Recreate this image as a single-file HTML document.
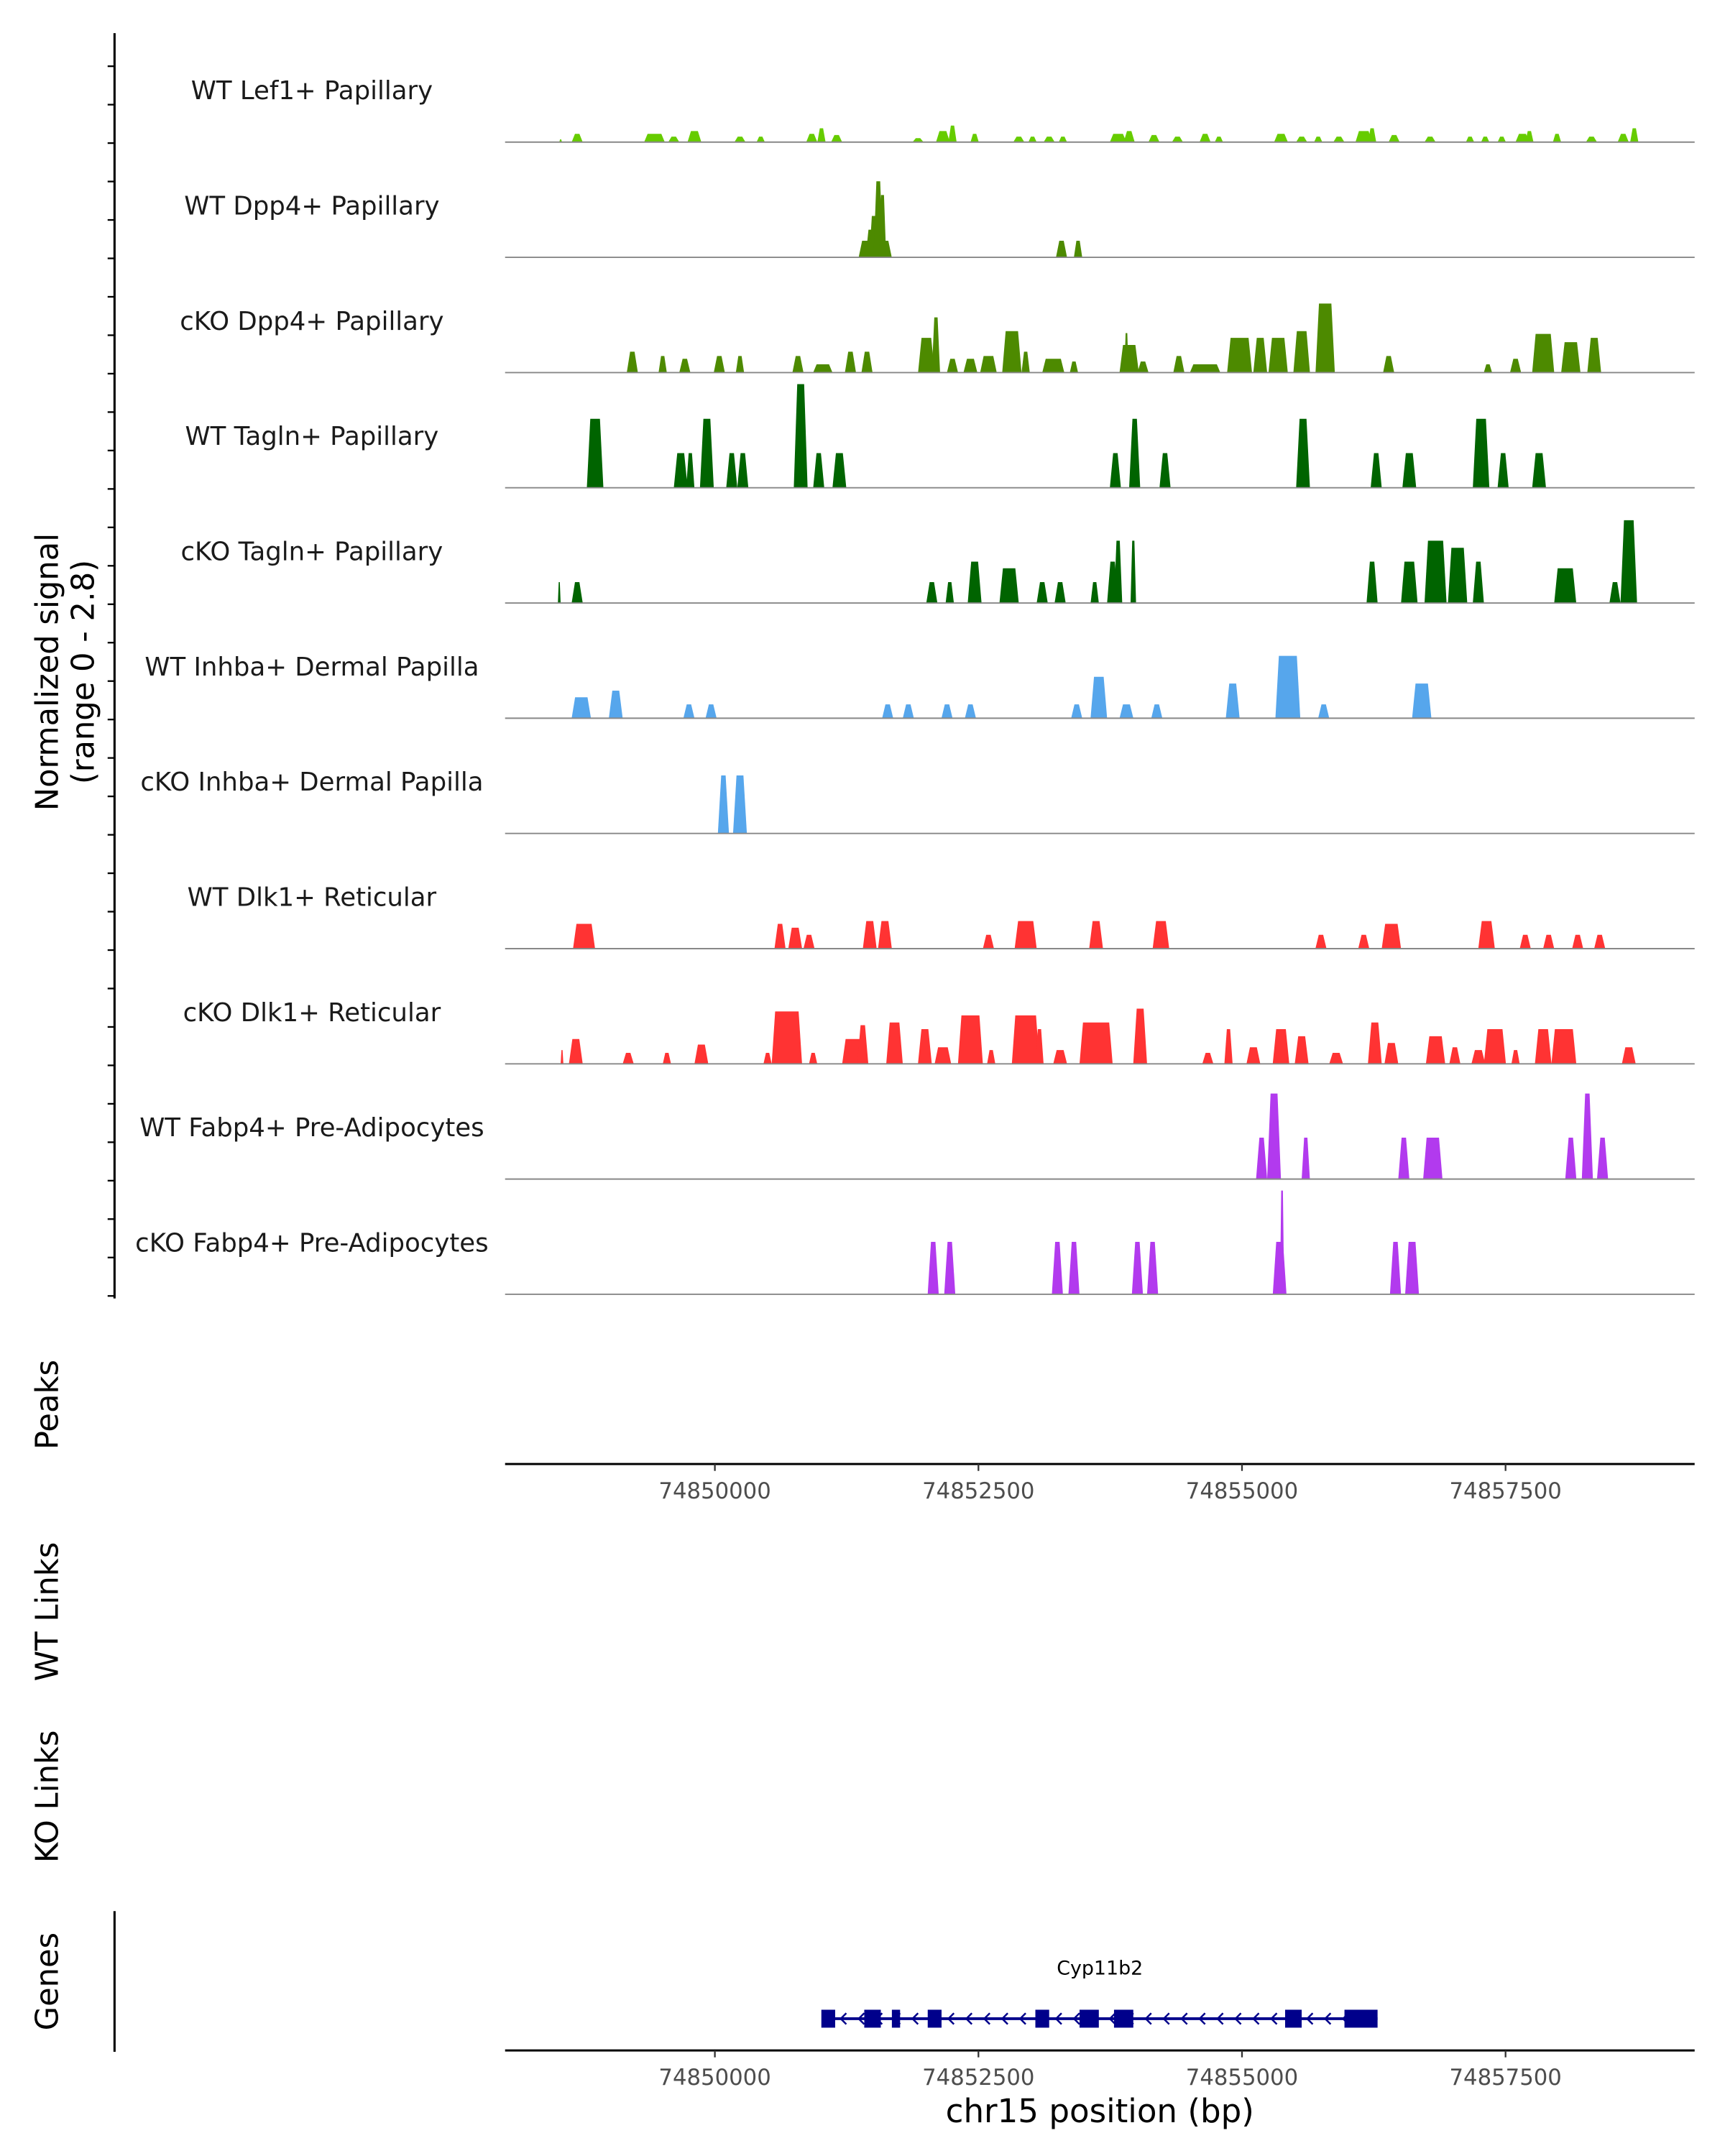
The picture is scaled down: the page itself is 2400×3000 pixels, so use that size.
<!DOCTYPE html>
<html><head><meta charset="utf-8"><style>
html,body{margin:0;padding:0;background:#fff;}
svg{display:block;font-family:"DejaVu Sans","Liberation Sans",sans-serif;}
</style></head><body>
<svg id="chart" width="2400" height="3000" viewBox="0 0 1250 1562.5" preserveAspectRatio="none" xmlns="http://www.w3.org/2000/svg">
<g id="left-axis"></g>
<text transform="translate(42,487) rotate(-90)" text-anchor="middle" font-size="22.5" fill="#000">Normalized signal</text>
<text transform="translate(68,487) rotate(-90)" text-anchor="middle" font-size="22.5" fill="#000">(range 0 - 2.8)</text>
<g id="tracks"></g>
<text transform="translate(42,1018) rotate(-90)" text-anchor="middle" font-size="22.5">Peaks</text>
<g id="axis1"></g>
<text transform="translate(42,1168) rotate(-90)" text-anchor="middle" font-size="22.5">WT Links</text>
<text transform="translate(42,1302) rotate(-90)" text-anchor="middle" font-size="22.5">KO Links</text>
<text transform="translate(42,1436) rotate(-90)" text-anchor="middle" font-size="22.5">Genes</text>
<line x1="83" y1="1385" x2="83" y2="1487" stroke="#000" stroke-width="1.6"/>
<g id="gene"></g>
<g id="axis2"></g>
<text x="797" y="1538" text-anchor="middle" font-size="23.5">chr15 position (bp)</text>
</svg>
<script>
const regionStart = 74848000;
const xTicks = [74850000, 74852500, 74855000, 74857500];
const trackNames = ["WT Lef1+ Papillary","WT Dpp4+ Papillary","cKO Dpp4+ Papillary","WT Tagln+ Papillary","cKO Tagln+ Papillary","WT Inhba+ Dermal Papilla","cKO Inhba+ Dermal Papilla","WT Dlk1+ Reticular","cKO Dlk1+ Reticular","WT Fabp4+ Pre-Adipocytes","cKO Fabp4+ Pre-Adipocytes"];
const trackColors = ["#66cc00","#4d8a00","#4d8a00","#006400","#006400","#56a6ec","#56a6ec","#ff3333","#ff3333","#b23aee","#b23aee"];
// peaks: [center offset from regionStart (bp), width (bp), signal]
const t1 = [[537,26,.07],[694,105,.21],[1427,196,.21],[1610,105,.14],[1806,131,.28],[2238,105,.14],[2435,78,.14],[2919,105,.21],[3011,78,.35],[3155,105,.18],[3927,105,.1],[4163,131,.28],[4254,78,.42],[4464,78,.21],[4883,105,.14],[5013,78,.14],[5171,105,.14],[5301,78,.14],[5825,157,.21],[5930,105,.28],[6165,105,.18],[6388,105,.14],[6650,105,.21],[6781,78,.14],[7370,131,.21],[7566,105,.14],[7723,78,.14],[7919,105,.14],[8155,157,.28],[8234,78,.35],[8443,105,.18],[8784,105,.14],[9163,78,.14],[9307,78,.14],[9464,78,.14],[9660,131,.21],[9726,78,.28],[9988,78,.21],[10315,105,.14],[10616,105,.21],[10721,78,.35]];
const t2 = [[3521,314,.42],[3475,90,.7],[3505,80,1.05],[3550,90,1.93],[3590,70,1.58],[5288,105,.42],[5445,79,.42]];
const t3 = [[1217,105,.53],[1505,78,.42],[1715,105,.35],[2042,105,.42],[2238,78,.42],[2788,105,.42],[3024,183,.21],[3286,105,.53],[3443,105,.53],[4006,157,.88],[4097,78,1.4],[4254,105,.35],[4424,131,.35],[4595,157,.42],[4817,183,1.05],[4948,78,.53],[5210,209,.35],[5406,78,.28],[5930,183,.7],[5904,40,1.0],[6061,105,.28],[6401,105,.42],[6650,288,.21],[6977,236,.88],[7173,131,.88],[7343,183,.88],[7566,157,1.05],[7789,183,1.75],[8391,105,.42],[9333,78,.21],[9595,105,.35],[9857,209,.98],[10119,183,.77],[10341,131,.88]];
const t4 = [[864,157,1.75],[1676,131,.88],[1767,78,.88],[1924,131,1.75],[2160,105,.88],[2265,105,.88],[2814,131,2.63],[2985,105,.88],[3181,131,.88],[5799,105,.88],[5982,105,1.75],[6270,105,.88],[7579,131,1.75],[8273,105,.88],[8587,131,.88],[9268,157,1.75],[9477,105,.88],[9818,131,.88]];
const t5 = [[524,26,.53],[694,105,.53],[4058,105,.53],[4228,78,.53],[4464,131,1.05],[4791,183,.88],[5105,105,.53],[5275,105,.53],[5603,78,.53],[5773,105,1.05],[5825,78,1.58],[5969,52,1.58],[8234,105,1.05],[8587,157,1.05],[8836,209,1.58],[9045,183,1.4],[9242,105,1.05],[10066,209,.88],[10538,105,.53],[10669,157,2.1]];
const t6 = [[733,183,.53],[1060,131,.7],[1754,105,.35],[1964,105,.35],[3639,105,.35],[3835,105,.35],[4202,105,.35],[4424,105,.35],[5432,105,.35],[5642,157,1.05],[5904,131,.35],[6192,105,.35],[6912,131,.88],[7435,236,1.58],[7775,105,.35],[8705,183,.88]];
const t7 = [[2081,105,1.47],[2238,131,1.47]];
const t8 = [[759,209,.63],[2618,105,.63],[2762,131,.53],[2893,105,.35],[3469,131,.7],[3613,131,.7],[4595,105,.35],[4948,209,.7],[5616,131,.7],[6231,157,.7],[7749,105,.35],[8155,105,.35],[8417,183,.63],[9320,157,.7],[9687,105,.35],[9909,105,.35],[10184,105,.35],[10393,105,.35]];
const t9 = [[550,26,.35],[681,131,.63],[1178,105,.28],[1545,78,.28],[1872,131,.49],[2500,78,.28],[2683,288,1.33],[2932,78,.28],[3312,209,.63],[3403,105,.98],[3704,157,1.05],[3992,131,.88],[4163,157,.42],[4424,236,1.23],[4621,78,.35],[4948,262,1.23],[5079,78,.88],[5275,131,.35],[5616,314,1.05],[6034,131,1.4],[6676,105,.28],[6872,78,.88],[7108,131,.42],[7370,157,.88],[7566,131,.7],[7893,131,.28],[8260,131,1.05],[8417,131,.53],[8836,183,.7],[9019,105,.42],[9242,131,.35],[9399,209,.88],[9595,78,.35],[9857,157,.88],[10053,236,.88],[10669,131,.42]];
const t10 = [[7186,105,1.05],[7304,131,2.17],[7605,78,1.05],[8535,105,1.05],[8810,183,1.05],[10119,105,1.05],[10276,105,2.17],[10420,105,1.05]];
const t11 = [[4071,105,1.33],[4228,105,1.33],[5249,105,1.33],[5406,105,1.33],[6008,105,1.33],[6152,105,1.33],[7357,130,1.33],[7380,40,2.63],[8456,105,1.33],[8613,131,1.33]];
const exonStarts = [3010,3417,3679,4019,5040,5459,5786,7409,7972];
const exonEnds = [3141,3574,3757,4150,5171,5642,5969,7566,8286];
const geneStart = 3024, geneEnd = 8286;
const allTracks = [t1,t2,t3,t4,t5,t6,t7,t8,t9,t10,t11];

const NS = "http://www.w3.org/2000/svg";
const X0 = 366, X1 = 1228, bpStart = 74848010, bpPerPx = 13.09;
function xScale(bp){ return X0 + (bp - bpStart) / bpPerPx; }
function yScale(v, base){ return base - v / 2.8 * 80; }
function mk(tag, attrs, parent){ const e = document.createElementNS(NS, tag); for (const k in attrs) e.setAttribute(k, attrs[k]); parent.appendChild(e); return e; }

const la = document.getElementById('left-axis');
mk('line', {x1:83,y1:24,x2:83,y2:941,stroke:'#000','stroke-width':1.6}, la);
for (let i = 0; i < 33; i++) {
  const y = 48 + i * 27.85;
  const t = mk('line', {x1:78,y1:y,x2:83,y2:y,stroke:'#000','stroke-width':1.2}, la);
  
  
}

const tg = document.getElementById('tracks');
allTracks.forEach((peaks, i) => {
  const base = 103 + i * 83.5;
  const g = mk('g', {}, tg);
  
  
  const lbl = mk('text', {x:226, y:base - 31, 'text-anchor':'middle', 'font-size':18.5, fill:'#1a1a1a'}, g);
  lbl.textContent = trackNames[i];
  
  
  peaks.forEach(p => {
    const c = regionStart + p[0];
    const xa = xScale(c - p[1] / 2), xb = xScale(c + p[1] / 2);
    const ramp = Math.min((xb - xa) * 0.3, 2.5);
    const yt = yScale(p[2], base);
    const poly = mk('polygon', {points: `${xa},${base} ${xa+ramp},${yt} ${xb-ramp},${yt} ${xb},${base}`, fill: trackColors[i]}, g);
    
    
  });
  const bl = mk('line', {x1:X0, y1:base, x2:X1, y2:base, stroke:'#888', 'stroke-width':1}, g);
  
  
});

function drawAxis(id, y) {
  const g = document.getElementById(id);
  mk('line', {x1:X0, y1:y, x2:X1, y2:y, stroke:'#000', 'stroke-width':1.6}, g);
  xTicks.forEach(t => {
    const x = xScale(t);
    mk('line', {x1:x, y1:y, x2:x, y2:y+5, stroke:'#333', 'stroke-width':1.2}, g);
    const tx = mk('text', {x:x, y:y+25, 'text-anchor':'middle', 'font-size':16, fill:'#4d4d4d'}, g);
    tx.textContent = t;
    
    
  });
}
drawAxis('axis1', 1061);
drawAxis('axis2', 1486);

const gg = document.getElementById('gene');
const gy = 1463;
const gl = mk('line', {x1:xScale(regionStart+geneStart), y1:gy, x2:xScale(regionStart+geneEnd), y2:gy, stroke:'#00008b', 'stroke-width':2}, gg);


for (let x = xScale(regionStart+geneStart) + 14; x < xScale(regionStart+geneEnd) - 10; x += 13) {
  const a = mk('polyline', {points:`${x+3},${gy-4} ${x-1},${gy} ${x+3},${gy+4}`, fill:'none', stroke:'#00008b', 'stroke-width':1.3}, gg);
  
  
}
exonStarts.forEach((s, i) => {
  const xa = xScale(regionStart + s), xb = xScale(regionStart + exonEnds[i]);
  const r = mk('rect', {x:xa, y:gy-6.5, width:xb-xa, height:13, fill:'#00008b'}, gg);
  
  
});
const gn = mk('text', {x:797, y:1431, 'text-anchor':'middle', 'font-size':14, fill:'#000'}, gg);
gn.textContent = 'Cyp11b2';


</script>
</body></html>
